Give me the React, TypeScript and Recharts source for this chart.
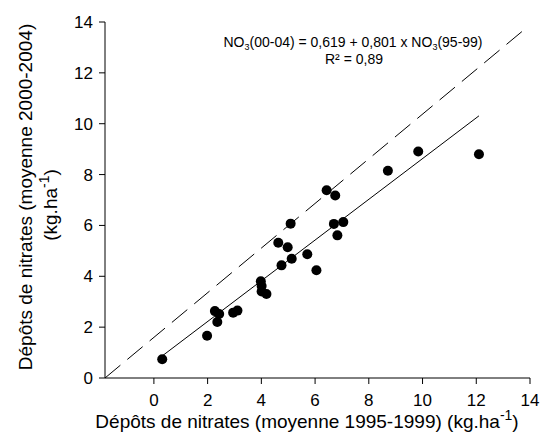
import { ScatterChart, Scatter, XAxis, YAxis, ReferenceLine } from 'recharts';

// nitrate deposition, mean 1995-1999 (x) vs mean 2000-2004 (y), kg/ha
const depot9599 = [
  0.31, 1.98, 2.27, 2.43, 2.36, 2.95, 3.11, 3.98, 4.01, 4.01, 4.19,
  4.63, 4.98, 4.75, 5.13, 5.71, 6.05, 9.84, 8.71, 6.43, 6.75, 5.09,
  6.70, 7.05, 6.83, 12.10,
];
const depot0004 = [
  0.74, 1.66, 2.63, 2.52, 2.20, 2.57, 2.65, 3.80, 3.62, 3.40, 3.30,
  5.32, 5.14, 4.43, 4.69, 4.87, 4.24, 8.91, 8.15, 7.38, 7.18, 6.07,
  6.06, 6.13, 5.61, 8.80,
];

// ends of the regression line and of the dashed reference line
const fitEnds = [
  { x: 0.3, y: 0.86 },
  { x: 12.1, y: 10.31 },
];
const dashEnds = [
  { x: -1.82, y: 0 },
  { x: 13.9, y: 13.8 },
];

const xTicks = [0, 2, 4, 6, 8, 10, 12, 14];
const yTicks = [0, 2, 4, 6, 8, 10, 12, 14];

const points = depot9599.map((x, i) => ({ x, y: depot0004[i] }));

const FONT = '"Liberation Sans", Arial, sans-serif';

const Dot = (props: any) => <circle cx={props.cx} cy={props.cy} r={5} fill="#000" />;

const XTick = ({ x, y, payload }: any) => (
  <text x={x} y={y + 20} textAnchor="middle" fontSize={17} fontFamily={FONT} fill="#000">
    {payload.value}
  </text>
);

const YTick = ({ x, y, payload }: any) => (
  <text x={x - 4} y={y + 6} textAnchor="end" fontSize={17} fontFamily={FONT} fill="#000">
    {payload.value}
  </text>
);

export default function App() {
  return (
    <div style={{ position: 'relative', width: 540, height: 436 }}>
      <style>{'body{margin:0}'}</style>
      <ScatterChart
        width={540}
        height={436}
        margin={{ top: 22, right: 10, bottom: 0, left: 45 }}
      >
        <XAxis
          type="number"
          dataKey="x"
          domain={[-1.82, 14]}
          ticks={xTicks}
          allowDataOverflow
          height={58}
          stroke="#000"
          tickSize={6}
          tick={<XTick />}
        />
        <YAxis
          type="number"
          dataKey="y"
          domain={[0, 14]}
          ticks={yTicks}
          allowDataOverflow
          width={60}
          stroke="#000"
          tickSize={6}
          tick={<YTick />}
        />
        <ReferenceLine
          segment={dashEnds}
          stroke="#000"
          strokeWidth={1}
          strokeDasharray="20 9"
          ifOverflow="visible"
        />
        <ReferenceLine segment={fitEnds} stroke="#000" strokeWidth={1} ifOverflow="visible" />
        <Scatter data={points} fill="#000" shape={<Dot />} isAnimationActive={false} />
      </ScatterChart>
      <svg
        width={540}
        height={436}
        style={{ position: 'absolute', left: 0, top: 0, pointerEvents: 'none' }}
      >
        <text x={353} y={47} textAnchor="middle" fontSize={14} fontFamily={FONT} fill="#000">
          NO<tspan fontSize={9} dy={2.5}>3</tspan>
          <tspan dy={-2.5}>(00-04) = 0,619 + 0,801 x NO</tspan>
          <tspan fontSize={9} dy={2.5}>3</tspan>
          <tspan dy={-2.5}>(95-99)</tspan>
        </text>
        <text x={354} y={64} textAnchor="middle" fontSize={14} fontFamily={FONT} fill="#000">
          R² = 0,89
        </text>
        <text x={307} y={428} textAnchor="middle" fontSize={19} fontFamily={FONT} fill="#000">
          Dépôts de nitrates (moyenne 1995-1999) (kg.ha
          <tspan fontSize={14} dy={-8}>-1</tspan>
          <tspan dy={8}>)</tspan>
        </text>
        <g transform="translate(32,197) rotate(-90)">
          <text x={0} y={0} textAnchor="middle" fontSize={19} fontFamily={FONT} fill="#000">
            Dépôts de nitrates (moyenne 2000-2004)
          </text>
          <text x={-8} y={25} textAnchor="middle" fontSize={19} fontFamily={FONT} fill="#000">
            (kg.ha
            <tspan fontSize={14} dy={-8}>-1</tspan>
            <tspan dy={8}>)</tspan>
          </text>
        </g>
      </svg>
    </div>
  );
}
